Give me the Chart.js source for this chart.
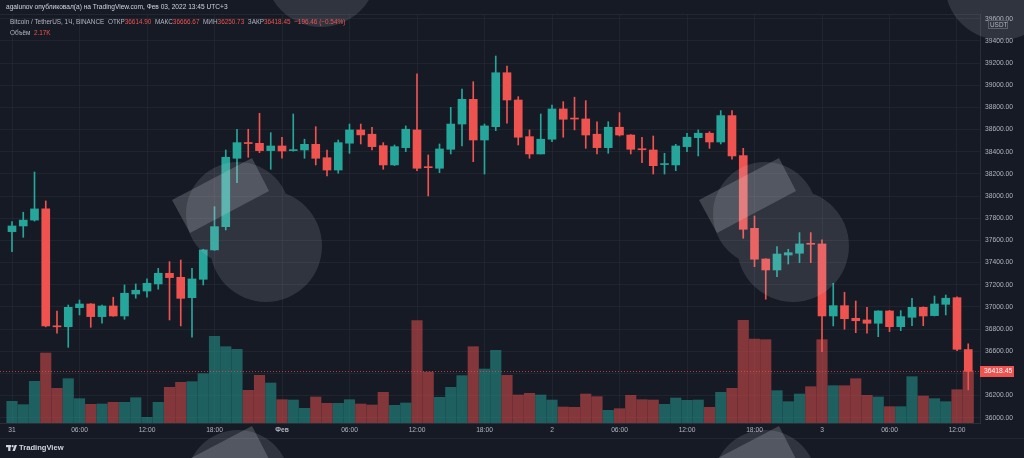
<!DOCTYPE html>
<html><head><meta charset="utf-8">
<script src="https://cdn.jsdelivr.net/npm/chart.js@4.4.0/dist/chart.umd.min.js"></script>
<style>
html,body{margin:0;padding:0;background:#161a25;}
#wrap{position:relative;width:1024px;height:458px;overflow:hidden;background:#161a25;font-family:"Liberation Sans",Arial,sans-serif;}
#c{position:absolute;left:0;top:0;}
.t{position:absolute;white-space:nowrap;line-height:1;}
#hdr{left:6px;top:4px;font-size:6.6px;color:#d1d4dc;}
#lg1{left:10px;top:19px;font-size:6.4px;color:#b2b5be;}
#lg2{left:10px;top:30px;font-size:6.4px;color:#b2b5be;}
.r{color:#ef5350;}
#ft{left:19px;top:444px;font-size:7.6px;color:#d1d4dc;font-weight:bold;}
</style></head>
<body><div id="wrap">
<canvas id="c" width="1024" height="458"></canvas>
<div class="t" id="hdr">agalunov опубликовал(а) на TradingView.com, Фев 03, 2022 13:45 UTC+3</div>
<div class="t" id="lg1">Bitcoin / TetherUS, 1Ч, BINANCE&nbsp; ОТКР<span class="r">36614.90</span>&nbsp; МАКС<span class="r">36666.67</span>&nbsp; МИН<span class="r">36250.73</span>&nbsp; ЗАКР<span class="r">36418.45</span>&nbsp; <span class="r">−196.46 (−0.54%)</span></div>
<div class="t" id="lg2">Объём&nbsp; <span class="r">2.17K</span></div>
<div class="t" id="ft">TradingView</div>
</div>
<script>
// x tick labels, every 6 hourly candles starting at 31 Jan 00:00
const tickLabels = ["31","06:00","12:00","18:00","Фев","06:00","12:00","18:00","2","06:00","12:00","18:00","3","06:00","12:00"];

const openP = [37679,37730,37783,37884,36828,36821,36993,37026,36912,37008,
36918,37116,37143,37207,37303,37267,37083,37249,37514,37724,
38341,38480,38476,38410,38452,38410,38416,38467,38346,38235,
38477,38597,38558,38455,38281,38437,38597,38260,38251,38422,
38650,38873,38506,38626,39113,38867,38536,38380,38513,38786,
38700,38696,38558,38437,38621,38551,38425,38416,38284,38281,
38446,38527,38567,38488,38726,38365,37709,37432,37333,37468,
37484,37570,37568,36918,37011,36897,36882,36852,36963,36821,
36906,36996,36921,37023,37083,36614.90];
const highP = [37769,37854,38217,37956,36963,37017,37062,37030,37017,37087,
37198,37207,37254,37348,37408,37423,37348,37520,37904,38416,
38603,38603,38747,38572,38531,38741,38513,38626,38416,38506,
38650,38650,38621,38482,38461,38633,39102,38371,38470,38801,
38966,39032,38650,39264,39174,38897,38597,38741,38822,38852,
38892,38861,38671,38671,38753,38555,38531,38542,38386,38467,
38567,38597,38581,38771,38771,38431,37820,37435,37543,37520,
37670,37670,37604,37213,37132,37053,36996,36965,36968,36966,
37078,37000,37098,37107,37090,36666.67];
const lowP = [37498,37628,37774,36820,36762,36635,36927,36816,36852,36915,
36888,37078,37087,37159,36882,36828,36726,37198,37510,37694,
38121,38350,38392,38242,38341,38405,38341,38281,38181,38206,
38386,38470,38416,38242,38275,38401,38229,38001,38211,38380,
38452,38310,38199,38590,38657,38461,38341,38380,38491,38531,
38597,38431,38380,38386,38542,38380,38301,38199,38199,38229,
38401,38362,38431,38470,38332,37619,37363,37069,37273,37387,
37399,37399,36596,36828,36798,36767,36762,36731,36776,36785,
36830,36830,36918,36927,36605,36250.73];
const closeP = [37730,37783,37884,36828,36820,36996,37026,36912,37008,36918,
37123,37150,37213,37303,37264,37077,37252,37514,37724,38350,
38482,38474,38410,38452,38407,38416,38467,38341,38235,38482,
38597,38552,38446,38281,38446,38603,38251,38256,38425,38650,
38873,38506,38633,39113,38867,38531,38380,38513,38786,38693,
38695,38551,38437,38621,38551,38422,38418,38274,38290,38452,
38531,38567,38488,38726,38362,37700,37430,37333,37477,37489,
37568,37565,36918,37011,36893,36875,36852,36963,36821,36912,
36996,36918,37026,37078,36617,36418.45];
const volume = [900,761,1729,2904,1438,1839,1010,774,788,857,
857,1051,235,857,1480,1687,1715,2047,3596,3167,
3056,1355,1978,1660,968,954,609,1079,816,816,
968,788,747,1272,733,830,4246,2116,1065,1480,
1964,3167,2240,3015,1978,1162,1231,1162,954,664,
650,1203,1093,526,595,1148,968,954,774,1037,
940,954,650,1272,1438,4260,3485,3458,1342,885,
1203,1507,3458,1549,1549,1839,1148,1079,678,678,
1922,1120,1010,885,1383,2171];

const UP = '#26a69a', DN = '#ef5350';
const idx = openP.map((_, i) => i);
const isUp = idx.map(i => closeP[i] >= openP[i]);
const candleCol = isUp.map(u => u ? UP : DN);
const volCol = isUp.map(u => u ? 'rgba(38,166,154,0.5)' : 'rgba(239,83,80,0.5)');
const lastClose = closeP[closeP.length - 1];

function logoPath(ctx, dx, dy) {
  ctx.moveTo(238 + dx + 52, 214 + dy);
  ctx.arc(238 + dx, 214 + dy, 52, 0, Math.PI * 2);
  ctx.moveTo(266 + dx + 56, 246 + dy);
  ctx.arc(266 + dx, 246 + dy, 56, 0, Math.PI * 2);
}
function rectPath(ctx, dx, dy) {
  ctx.moveTo(172 + dx, 200 + dy);
  ctx.lineTo(252 + dx, 158 + dy);
  ctx.lineTo(269 + dx, 191 + dy);
  ctx.lineTo(190 + dx, 233 + dy);
  ctx.closePath();
}

const overlay = {
  id: 'overlay',
  afterDraw(chart) {
    const ctx = chart.ctx;
    const ys = chart.scales.y;
    const area = chart.chartArea;
    const y = Math.round(ys.getPixelForValue(lastClose)) + 0.5;
    ctx.save();
    ctx.strokeStyle = 'rgba(239,83,80,0.7)';
    ctx.setLineDash([1, 2]);
    ctx.lineWidth = 1;
    ctx.beginPath();
    ctx.moveTo(area.left, y); ctx.lineTo(area.right, y);
    ctx.stroke();
    ctx.setLineDash([]);
    ctx.fillStyle = '#ef5350';
    ctx.fillRect(area.right, y - 5.5, 34, 11);
    ctx.fillStyle = '#ffffff';
    ctx.font = '6.8px "Liberation Sans", Arial, sans-serif';
    ctx.textBaseline = 'middle';
    ctx.textAlign = 'left';
    ctx.fillText(lastClose.toFixed(2), area.right + 4, y);
    ctx.fillStyle = '#161a25';
    ctx.fillRect(988, 20, 20, 9);
    ctx.strokeStyle = '#4a4e59';
    ctx.strokeRect(988.5, 20.5, 19, 8);
    ctx.fillStyle = '#b2b5be';
    ctx.font = '6.4px "Liberation Sans", Arial, sans-serif';
    ctx.fillText('USDT', 990, 24.8);
    ctx.strokeStyle = '#232733';
    ctx.beginPath(); ctx.moveTo(0, 14.5); ctx.lineTo(980, 14.5); ctx.stroke();
    ctx.beginPath(); ctx.moveTo(0, 438.5); ctx.lineTo(1024, 438.5); ctx.stroke();
    const tiles = [[0, 0], [527, 0], [0, 268], [527, 268], [55, -275], [735, -262]];
    ctx.fillStyle = 'rgba(200,202,212,0.15)';
    ctx.beginPath();
    tiles.forEach(t => logoPath(ctx, t[0], t[1]));
    ctx.fill('nonzero');
    ctx.fillStyle = 'rgba(210,212,220,0.22)';
    ctx.beginPath();
    tiles.forEach(t => rectPath(ctx, t[0], t[1]));
    ctx.fill('nonzero');
    ctx.fillStyle = '#d1d4dc';
    ctx.fillRect(6, 445, 5, 2.2);
    ctx.fillRect(8.2, 445, 2.2, 6);
    ctx.beginPath(); ctx.arc(12.6, 446.2, 1.1, 0, Math.PI * 2); ctx.fill();
    ctx.beginPath(); ctx.moveTo(14.6, 445); ctx.lineTo(17, 445); ctx.lineTo(14.8, 451); ctx.lineTo(12.4, 451); ctx.closePath(); ctx.fill();
    ctx.restore();
  }
};

const ctx = document.getElementById('c').getContext('2d');
new Chart(ctx, {
  type: 'bar',
  data: {
    datasets: [
      { label: 'Тело', data: idx.map(i => ({ x: i, y: [openP[i], closeP[i]] })), backgroundColor: candleCol,
        barThickness: 8, grouped: false, minBarLength: 1, order: 1, yAxisID: 'y' },
      { label: 'Тень', data: idx.map(i => ({ x: i, y: [lowP[i], highP[i]] })), backgroundColor: candleCol,
        barThickness: 1, grouped: false, order: 2, yAxisID: 'y' },
      { label: 'Объём', data: idx.map(i => ({ x: i, y: volume[i] })), backgroundColor: volCol,
        barThickness: 10.5, grouped: false, order: 3, yAxisID: 'yv' }
    ]
  },
  options: {
    responsive: false, animation: false, devicePixelRatio: 1,
    layout: { padding: { top: 14, bottom: 20, left: 0, right: 0 } },
    plugins: { legend: { display: false }, tooltip: { enabled: false } },
    scales: {
      x: {
        type: 'linear', offset: false, min: -12 / 11.25, max: -12 / 11.25 + 980 / 11.25,
        ticks: {
          stepSize: 6, includeBounds: false, autoSkip: false, maxRotation: 0, minRotation: 0,
          color: '#b2b5be', padding: 3,
          font: (c) => ({ size: 6.7, family: '"Liberation Sans", Arial, sans-serif',
            weight: (c.tick && c.tick.value === 24) ? 'bold' : 'normal' }),
          callback: (v) => (v >= 0 && v % 6 === 0 && v / 6 < tickLabels.length) ? tickLabels[v / 6] : ''
        },
        grid: { color: 'rgba(42,46,57,0.55)', drawTicks: false, offset: false },
        border: { color: '#2a2e39' },
        afterFit: (s) => { s.height = 15; }
      },
      y: {
        position: 'right', min: 35952, max: 39643,
        ticks: {
          stepSize: 200, includeBounds: false, color: '#b2b5be', padding: 5,
          font: { size: 6.7, family: '"Liberation Sans", Arial, sans-serif' },
          callback: (v) => Number(v).toFixed(2)
        },
        grid: { color: 'rgba(42,46,57,0.55)', drawTicks: false },
        border: { color: '#2a2e39' },
        afterFit: (s) => { s.width = 44; }
      },
      yv: { display: false, min: 0, max: 16970 }
    }
  },
  plugins: [overlay]
});
</script>
</body></html>
